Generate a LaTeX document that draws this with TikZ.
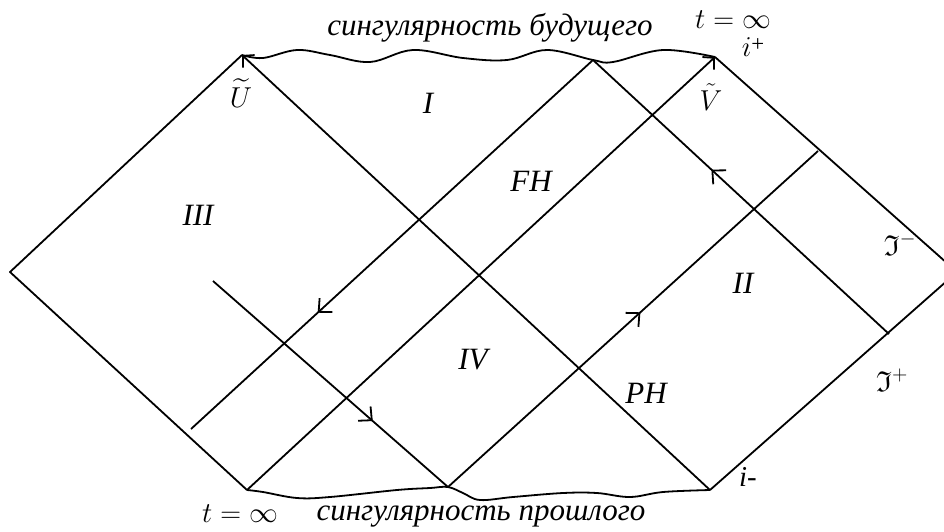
\RequirePackage{fix-cm}
\documentclass[tikz,border=0pt]{standalone}
\usepackage{fontspec}
\setmainfont{Liberation Serif}
\usepackage{amssymb}
\usetikzlibrary{arrows.meta,decorations.markings}
\tikzset{
  ln/.style={line width=1.8pt, line join=round},
  tipend/.tip={Straight Barb[length=8pt,width=17pt]},
  midarrow/.style={postaction={decorate}, decoration={markings,
      mark=at position #1 with {\arrow{Straight Barb[length=10pt,width=19pt]}}}},
  lbl/.style={font=\fontsize{31}{36}\selectfont\itshape, inner sep=0pt},
  cyr/.style={font=\fontsize{31}{36}\selectfont\itshape, inner sep=0pt, anchor=base},
  mth/.style={font=\fontsize{24}{28}\selectfont, scale=1.2, inner sep=0pt},
}
\begin{document}
\begin{tikzpicture}[x=1pt,y=-1pt]
\useasboundingbox (0,0) rectangle (944,531);
\clip (0,0) rectangle (944,531);
\coordinate (L) at (10,272);
\coordinate (U) at (242,55);
\coordinate (BL) at (247,490);
\coordinate (BM) at (448,487);
\coordinate (TM) at (593,60);
\coordinate (V) at (715,57);
\coordinate (Im) at (710,490);
\coordinate (R) at (957,272);
\coordinate (P1) at (818,151);
\coordinate (P2) at (889,334);
\coordinate (P3) at (191,429);
\coordinate (P4) at (213,281);
% diamond edges and horizons
\draw[ln] (U) -- (L) -- (BL);
\draw[ln,-tipend] (Im) -- (U);
\draw[ln,-tipend] (BL) -- (V);
\draw[ln] (V) -- (R);
\draw[ln] (Im) -- (R);
\draw[ln,midarrow=0.685] (TM) -- (P3);
\draw[ln,midarrow=0.6] (P2) -- (TM);
\draw[ln,midarrow=0.52] (BM) -- (P1);
\draw[ln,midarrow=0.68] (P4) -- (BM);
% singularities
\draw[ln] plot[smooth,tension=0.6] coordinates {(U) (263,58) (297,50) (330,55) (370,62) (413,50) (463,58) (507,60) (547,50) (TM) (613,62) (663,50) (V)};
\draw[ln] plot[smooth,tension=0.6] coordinates {(BL) (263,492) (297,498) (330,497) (397,490) (430,488) (BM) (463,493) (480,500) (513,497) (563,493) (597,493) (630,497) (663,492) (Im)};
% labels
\node[lbl] (nI) at (428,103) {I};
\node[lbl] (nII) at (743,283) {II};
\node[lbl] (nIII) at (198,215) {III};
\node[lbl] (nIV) at (473,360) {IV};
\node[lbl] (nFH) at (531,181) {FH};
\node[lbl] (nPH) at (646,393) {PH};
\node[cyr] (fut) at (490,35) {сингулярность будущего};
\node[cyr] (past) at (481,520) {сингулярность прошлого};
\node[mth,anchor=base] (tinf1) at (733,28) {$t=\infty$};
\node[mth,anchor=base] (tinf2) at (240,522) {$t=\infty$};
\node[mth] (ip) at (753,47) {$i$\raisebox{4pt}{\fontsize{19}{22}\selectfont +}};
\node[mth] (imn) at (748,477) {\textit{i}-};
\node[mth] (Ut) at (241,93) {$\widetilde{U}$};
\node[mth] (Vt) at (711,97) {$\tilde{V}$};
\node[mth] (Sm) at (900,244) {$\mathfrak{I}^{-}$};
\node[mth] (Sp) at (892,380) {$\mathfrak{I}^{+}$};
\end{tikzpicture}
\end{document}
